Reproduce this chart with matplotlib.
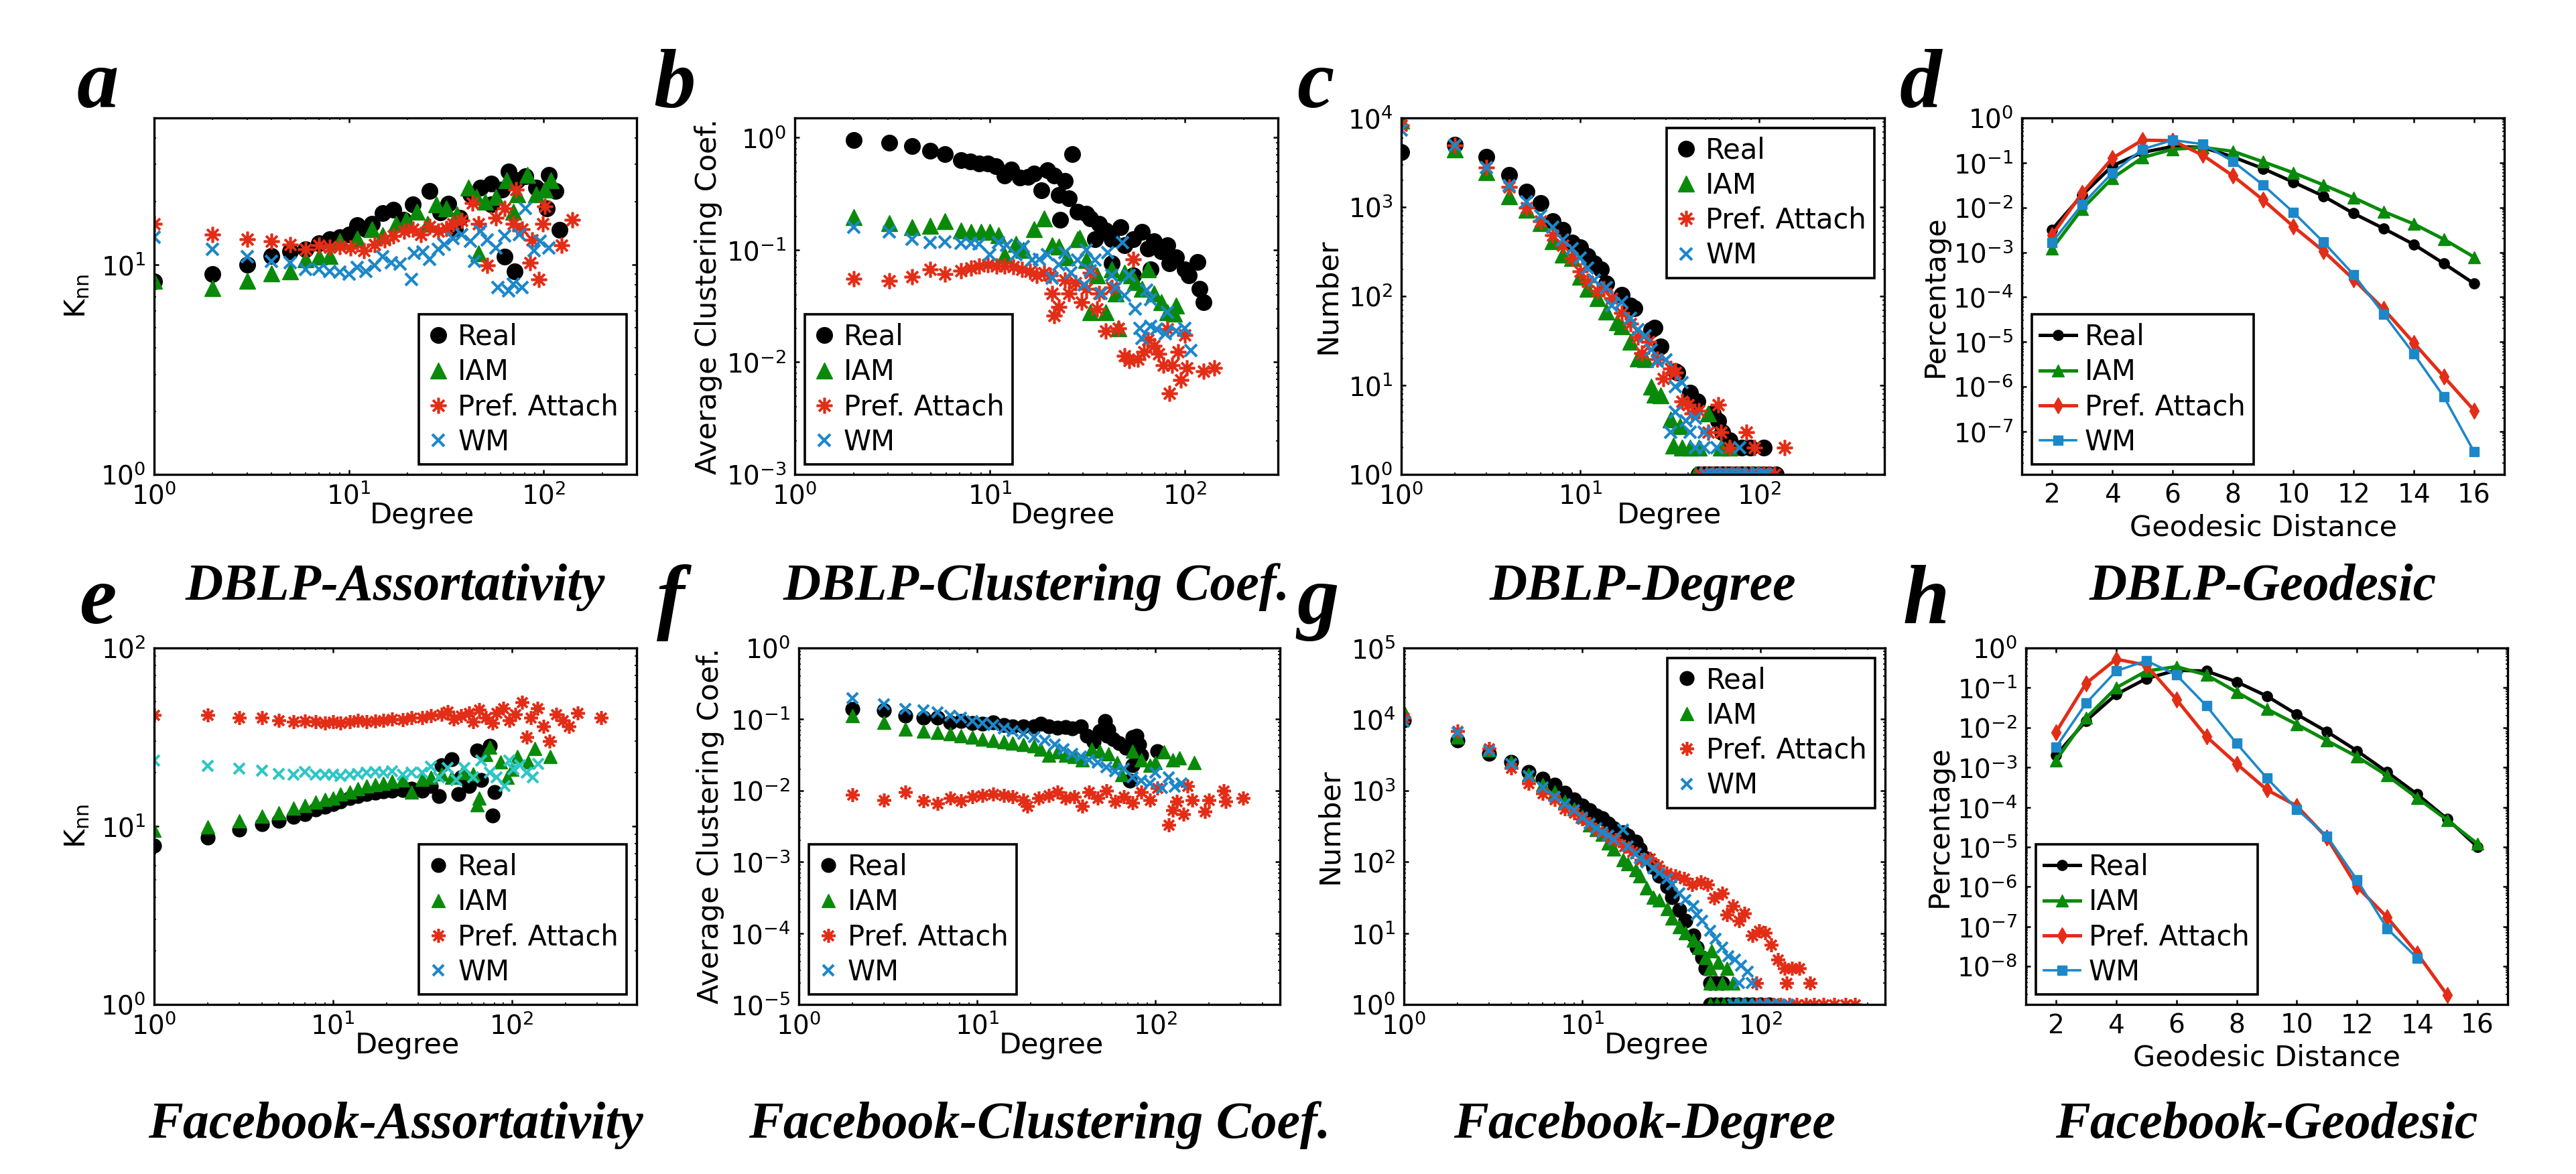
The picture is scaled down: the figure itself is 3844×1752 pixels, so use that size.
import numpy as np
import matplotlib
matplotlib.use("Agg")
import matplotlib.pyplot as plt
from matplotlib.ticker import LogLocator, NullLocator, NullFormatter, FixedLocator
from matplotlib.lines import Line2D

plt.rcParams['font.family'] = ['DejaVu Sans']
plt.rcParams['mathtext.fontset'] = 'dejavusans'

# ---------------- data ----------------
labels = ["Real", "IAM", "Pref. Attach", "WM"]

# a: DBLP assortativity
a_real_x = [1,2,3,4,5,6,7,8,9,10,11,12.2,13.1,14.9,16.9,19.1,21.2,25.9,29.4,32.4,35,37,41.9,47.5,53.8,53.8,61,63,66,71,73,80.8,91.5,104,106.6,115,121]
a_real_y = [8.3,9.0,10.0,11.0,11.6,11.8,12.6,13.2,13.5,13.9,15.4,14.7,15.7,17.6,18.2,16.4,19.4,22.4,17.7,19.5,14.9,16.7,21.7,23.2,24.4,19.4,22.8,10.9,27.8,9.3,25.2,26.4,23.2,18.5,26.8,22.4,14.6]
a_iam_x = [1,2,3,4,5,6,7,8,9,11,13.1,14.9,17.4,19.7,22.3,25.3,28,31.7,36,41,45.2,46.4,50,56.9,64.3,69.6,73,82.8,91.5,101,109]
a_iam_y = [8.4,7.75,8.35,9.1,9.3,10.6,10.9,11.0,12.9,13.3,14.7,13.8,15.6,16.4,17.9,15.6,19.4,18.5,17.3,23.2,21,11.3,20,21,25.2,17.9,21.7,26.8,21.7,22.8,25.2]
a_pa_x = [1,2,3,4,5,6,7,8,9,10.2,11.9,13.5,15.3,16.9,19.2,21.2,23.4,25.9,28.7,31.7,34.3,38,43,46.4,51.3,56.9,63,69.6,72,77.3,85,87,94,99,101,124,140]
a_pa_y = [15.7,13.9,13.2,12.9,12.5,11.8,12.4,12.1,12.2,12.0,11.7,12.5,13.1,13.7,14.4,14.7,13.9,15.2,14.4,14.9,15.7,16.2,19.7,15.7,9.9,16.7,18.5,15.7,22.8,14.7,10.2,13.1,8.5,15.7,19.0,12.4,16.4]
a_wm_x = [1,2,3,4,5,6,7,8,9,10,11,12.2,13.5,14.9,16.5,18.3,20.9,21.7,24,25.9,28.7,31,34.3,38,41.9,44,47.5,51.3,56.9,58,63,66,69.6,75,77.3,80.8,89.5,96,106.6]
a_wm_y = [13.5,11.8,10.9,10.4,10.2,9.5,9.5,9.3,9.2,9.0,9.7,9.3,9.9,10.9,10.2,10.1,8.5,11.3,11.5,10.6,11.8,12.5,13.3,13.9,12.9,10.4,14.4,13.1,12.0,7.8,13.7,7.5,8.1,13.9,7.8,18.5,11.7,12.9,12.0]

# b: DBLP clustering
b_real_x = [2.0,3.05,4.0,4.95,5.9,7.1,7.96,8.8,9.75,10.7,11.9,12.9,14.3,15.7,16.9,18.4,19.8,21.4,22.5,24.2,23,25.5,26.4,28.2,31.2,32.8,34.5,36.3,39.2,42.1,42.1,46.8,49.2,54.5,54.5,60.2,64.8,66.6,69.6,75.5,81.3,83.5,90.3,100,105,116,119,125]
b_real_y = [0.95,0.90,0.84,0.77,0.71,0.63,0.61,0.59,0.59,0.56,0.46,0.52,0.44,0.45,0.48,0.34,0.51,0.46,0.31,0.41,0.185,0.29,0.71,0.22,0.21,0.19,0.124,0.17,0.15,0.125,0.076,0.16,0.11,0.125,0.059,0.145,0.103,0.067,0.12,0.097,0.11,0.076,0.086,0.067,0.059,0.078,0.045,0.034]
b_iam_x = [2.0,3.05,4.0,4.95,5.9,7.1,8.0,9.0,10.0,11.1,11.9,13.6,14.9,16.9,18.9,20.8,22.5,24.9,28.2,28.9,31.2,32.8,35.4,39.2,42.1,44.4,45.5,49.2,53.1,55.8,60.2,64.8,69.6,75.5,81.3,88,90.3]
b_iam_y = [0.196,0.174,0.159,0.164,0.18,0.149,0.145,0.145,0.145,0.136,0.089,0.113,0.10,0.154,0.19,0.11,0.107,0.086,0.124,0.128,0.081,0.028,0.059,0.028,0.067,0.041,0.020,0.063,0.059,0.052,0.045,0.067,0.041,0.034,0.028,0.027,0.032]
b_pa_x = [2.0,3.05,4.0,4.95,5.9,7.1,8.0,8.8,9.75,10.8,11.9,13.2,14.6,16.1,17.4,18.9,20.3,20.8,21.4,22.5,24.2,25.5,27.5,29.6,31.2,32.8,35.4,36.3,39.2,42.1,45.5,49.2,51.8,54.5,57.4,61.7,64.8,69.6,73.6,77.6,81.3,83.5,86,92.6,95,100,102,125,142]
b_pa_y = [0.055,0.053,0.058,0.067,0.061,0.065,0.069,0.072,0.074,0.072,0.072,0.071,0.067,0.064,0.059,0.063,0.059,0.041,0.026,0.031,0.054,0.041,0.051,0.034,0.045,0.063,0.030,0.041,0.019,0.046,0.020,0.0114,0.0103,0.083,0.0106,0.0123,0.0159,0.0141,0.0118,0.0094,0.0197,0.0053,0.0094,0.0123,0.0069,0.0174,0.0089,0.0083,0.0089]
b_wm_x = [2.0,3.05,4.0,4.95,5.9,7.1,8.0,8.8,10.0,11.1,12.2,13.6,14.9,16.5,17.9,19.8,20.8,22.5,24.2,26,28.2,30.5,31.2,32.8,34.5,37.2,40.2,42.1,44.4,48,49.2,51.8,55.8,58.8,60.2,63.5,66.6,66.6,71.7,79.5,81.3,90.3,100,107]
b_wm_y = [0.159,0.145,0.125,0.117,0.118,0.115,0.115,0.113,0.091,0.117,0.11,0.091,0.107,0.081,0.083,0.091,0.056,0.074,0.094,0.063,0.081,0.049,0.10,0.065,0.081,0.041,0.094,0.059,0.046,0.117,0.039,0.059,0.030,0.020,0.0164,0.044,0.021,0.036,0.0197,0.018,0.028,0.019,0.020,0.0128]

# c: DBLP degree
c_real_x = [1,2,3,4,5,6,7,8,9,10,11,12,13,14,17,19,20,25,26,28,34,35,41,45,55,59,62,68,72,80,89,106,46,49,52,55,58,62,66,70,75,80,86,92,99,106,114,124]
c_real_y = [4100,5000,3650,2290,1500,1100,690,555,400,355,282,232,200,140,103,78,73,42,44,27.5,14.3,13.8,8.3,6.6,4.8,4.0,3.0,2.4,2.0,2.0,2.0,2.0,1,1,1,1,1,1,1,1,1,1,1,1,1,1,1,1]
c_iam_x = [1,2,3,4,5,6,7,8,9,10,11,12.5,14,16,17,19,21,23,25,26,28,32,33,36,37,41,46,52,61,68,44,47,51,55,60,65,71,77,84,92,100]
c_iam_y = [9260,4430,2480,1330,940,662,417,294,270,164,120,95,67,51,46,31,20,19.5,9.7,7.9,7.7,4.1,2.1,3.5,2,2,2,4.8,2,2,1,1,1,1,1,1,1,1,1,1,1]
c_pa_x = [1,2,3,4,5,6,7,8,9,10,11,12.5,13.5,15,17,19,21,22,24,27,29,32,34,37,40,42,46,52,59,61,68,85,94,139,47,51,55,60,65,70,76,83,90,98,106,114,122]
c_pa_y = [8240,4950,2780,1680,980,690,485,370,270,190,146,115,120,95,65,49,35,23,31,19.5,11.8,15.4,13.8,6.6,6.1,4.8,5.2,3.0,6.1,3.0,2,3.0,2.0,2.0,1,1,1,1,1,1,1,1,1,1,1,1,1]
c_wm_x = [1,2,3,4,5,6,7,8,9,10,11,12,14,15,17,19,21,23,25,27,30,34,37,34,39,44,32,41,49,44,49,58,78,50,54,58,63,68,74,80,88,96,104,110]
c_wm_y = [7330,4950,2780,1740,1140,800,590,430,343,270,207,151,125,78,85,56,42,36,25,18.6,19.4,9.7,10.8,5.0,4.0,4.3,3.0,3.0,3.0,2,2,2,2,1,1,1,1,1,1,1,1,1,1,1]

# d: DBLP geodesic
d_dist = [2,3,4,5,6,7,8,9,10,11,12,13,14,15,16]
d_real = [3.2e-3,1.9e-2,8.5e-2,0.17,0.23,0.22,0.135,0.074,0.037,0.018,7.4e-3,3.4e-3,1.5e-3,5.6e-4,2.0e-4]
d_iam = [1.2e-3,9.3e-3,0.045,0.13,0.20,0.22,0.18,0.105,0.06,0.032,0.0166,8.1e-3,4.3e-3,1.95e-3,7.8e-4]
d_pa = [2.4e-3,0.021,0.126,0.32,0.31,0.148,0.051,0.0148,3.8e-3,1.07e-3,2.5e-4,5.4e-5,9.5e-6,1.66e-6,2.95e-7]
d_wm = [1.66e-3,0.0117,0.059,0.2,0.32,0.26,0.107,0.032,7.9e-3,1.7e-3,3.2e-4,4.2e-5,5.4e-6,5.9e-7,3.5e-8]

# e: Facebook assortativity
e_real_x = [1,2,3,4,5,6,7,8,9,10,11,12.4,13.8,15.4,17.3,19.2,21.4,24.6,27.5,31.6,35.3,39.3,40.4,46.1,50.2,52,57.6,64.3,67.6,75.8,78,80]
e_real_y = [7.75,8.6,9.6,10.3,10.7,11.3,11.7,12.4,12.8,13.3,13.8,14.4,14.8,15.1,15.4,15.7,15.8,16.0,16.2,15.8,16.8,14.7,22.0,23.8,15.2,18.8,16.8,26.7,18.1,28.2,11.5,15.5]
e_iam_x = [1,2,3,4,5,6,7,8,9,10,11,12.4,13.8,15.4,17.3,19.2,21.4,24.6,27.5,31.6,35.3,40.4,46.1,52.8,60.6,64.3,66,71.6,75.8,87,94.5,100,108,124,135,164]
e_iam_y = [9.5,9.9,10.7,11.4,11.9,12.6,13.1,13.7,14.1,14.4,15.2,15.5,16.3,16.8,17.1,17.4,17.8,18.1,15.5,18.3,18.8,19.6,18.8,20.0,19.6,13.2,14.4,25.2,27.7,22.9,18.8,20.8,24.7,22.9,27.2,24.7]
e_pa_x = [1,2,3,4,5,6,7,8,9,10,11,12.4,13.8,15.4,17.3,19.2,21.4,24.6,27.5,31.6,35.3,40.4,44,47.5,52,57.6,60.6,66,71.6,78,82.6,89.6,97,105,114,121,128,139,150,163,177,193,210,234,317]
e_pa_y = [42.1,42.1,40.8,40.5,39.3,38.5,38.9,38.5,37.8,38.5,37.8,38.5,39.3,38.5,38.9,39.3,40.0,39.6,40.5,40.8,41.6,42.4,44.1,40.0,41.6,43.3,38.5,45,40.8,37.8,43.3,45.8,39.3,42.4,49.5,31.7,40.8,45.8,36.3,30,42.4,39.3,36.3,43.3,40.8]
e_wm_x = [1,2,3,4,5,6,7,8,9,10,11,12.4,13.8,15.4,17.3,19.2,21.4,24.6,27.5,31.6,35.3,39.3,44,49,54.6,60.6,67.6,75.8,82.6,91.5,97,102,111,121,131,140]
e_wm_y = [23.3,21.8,21.0,20.5,19.7,19.4,20.2,19.5,19.4,19.4,19.2,19.4,19.7,20.0,20.2,20.0,20.4,19.5,20.0,20.0,21.6,18.8,21.2,18.1,21.2,18.8,23.3,20.0,18.8,16.8,23.3,20.8,21.9,20.0,18.8,22.4]

# f: Facebook clustering
f_real_x = [2.0,3.0,3.95,5.0,6.0,7.1,8.15,9.4,10.7,12.3,14.1,15.8,18.2,20.8,22.7,25.3,28.2,31.4,34.2,38.2,41.5,45.1,48.9,52.3,53.5,54.7,57.8,62.9,68.2,72.2,74.4,74.4,78.6,80.9,83.2,103]
f_real_y = [0.14,0.134,0.113,0.105,0.105,0.091,0.095,0.088,0.087,0.091,0.083,0.080,0.079,0.079,0.087,0.079,0.076,0.077,0.075,0.079,0.059,0.0485,0.068,0.095,0.059,0.071,0.053,0.046,0.04,0.0139,0.056,0.0225,0.059,0.044,0.0315,0.036]
f_iam_x = [2.0,3.0,3.95,5.0,6.0,7.1,8.15,9.4,10.7,12.3,14.1,15.8,18.2,20.8,22.7,25.3,28.2,31.4,35,39,44,48.9,54.7,61,64.7,74.4,83.2,93,100,112,125,136,165]
f_iam_y = [0.113,0.091,0.073,0.068,0.065,0.062,0.059,0.056,0.053,0.051,0.0485,0.046,0.044,0.042,0.038,0.0315,0.0346,0.0315,0.030,0.027,0.038,0.036,0.033,0.0247,0.0168,0.036,0.027,0.0225,0.0247,0.0346,0.027,0.0286,0.0247]
f_pa_x = [2.0,3.0,3.95,5.0,6.0,7.1,8.15,9.4,10.7,12.3,14.1,15.8,18.2,19.2,22.1,25.3,28.2,31.4,35,39,42.6,47.6,53.2,59.4,66.3,74.4,83.2,93,103,119,125,132,144,152,161,190,200,242,249,311]
f_pa_y = [0.0087,0.0074,0.0096,0.0072,0.0066,0.0078,0.0072,0.0082,0.0086,0.009,0.0086,0.0082,0.0074,0.0061,0.0078,0.0086,0.0095,0.0078,0.0082,0.0061,0.0095,0.0078,0.0099,0.0070,0.0082,0.0068,0.0095,0.0074,0.0109,0.0033,0.0053,0.0070,0.0047,0.0115,0.0074,0.0051,0.0074,0.0099,0.0070,0.0078]
f_wm_x = [2.0,3.0,3.95,5.0,6.0,7.1,8.15,9.4,10.7,12.3,14.1,15.8,18.2,20.8,23.9,27.4,30.6,34.2,38.2,42.6,47.6,53.2,59.4,66.3,74.4,83.2,93,100,109,119,129,140]
f_wm_y = [0.196,0.162,0.14,0.134,0.125,0.113,0.105,0.095,0.088,0.083,0.075,0.068,0.062,0.056,0.051,0.044,0.038,0.033,0.030,0.027,0.0247,0.0214,0.0186,0.0204,0.0153,0.0139,0.0126,0.0177,0.0109,0.0153,0.0114,0.0126]

# g: Facebook degree
g_real_x = [1,2,3,4,5,6,7,8,9,10,11,12,13,14,15,17,18,20,21,23,25,27,30,32,35,38,42,44,47,49,52,56,61,52,56,60,65,70,76,83,90,100,112]
g_real_y = [9660,5000,3270,2550,1830,1470,1210,933,747,617,533,448,407,345,298,258,234,193,152,113,85,64,45,32,21,15,9.2,6.3,4.5,3.2,2.0,2.0,2.0,1,1,1,1,1,1,1,1,1,1]
g_iam_x = [1,2,3,4,5,6,7,8,9,10,11,12,13,14,15,17,18,20,21,23,25,27,30,32,35,38,42,45,49,53,58,52,65,52,61,70,52,57,62,68,75,82,90,99,110,125]
g_iam_y = [12900,5680,3750,2500,1660,1210,950,711,559,439,329,284,246,184,152,108,94,77,64,43,32,29,22,16.4,12.3,10.2,8.0,6.3,4.5,5.7,3.9,3.2,3.2,2.0,2.0,2.0,1,1,1,1,1,1,1,1,1,1]
g_pa_x = [1,2,3,4,5,6,7,8,9,10,11,12.3,13.8,15.4,17.2,19.2,21.4,23.9,26.7,29.8,33.3,37.2,41.4,46.3,50.4,55,61,65,70,76,81,90,98,106,115,125,136,150,165,95,140,190,95,105,118,130,145,160,180,200,225,260,300,339]
g_pa_y = [10600,6890,3860,2060,1270,906,747,559,484,398,345,271,234,203,167,138,108,113,89,70,64,58,48,52,48,31,36,18,24,15,19,9.2,10.7,10.2,6.9,4.3,3.2,3.2,3.2,2.0,2.0,2.0,1,1,1,1,1,1,1,1,1,1,1,1]
g_wm_x = [1,2,3,4,5,6,7,8,9,10,11,12,13,14,15,17,18,20,21,23,25,27,30,32,35,38,42,44,47,52,56,61,66,72,78,85,76,89,70,77,85,94,104,115,128,142]
g_wm_y = [9200,6560,3680,2380,1620,1100,822,646,533,418,345,298,258,234,203,284,167,131,113,98,81,70,58,48,36,29,24,18,15,10.7,8.4,6.3,4.7,4.3,3.5,2.9,2.0,2.0,1,1,1,1,1,1,1,1]

# h: Facebook geodesic
h_dist = [2,3,4,5,6,7,8,9,10,11,12,13,14,15,16]
h_real = [2.0e-3,0.0148,0.068,0.17,0.275,0.263,0.141,0.062,0.0214,7.9e-3,2.6e-3,7.6e-4,2.1e-4,5.0e-5,1.0e-5]
h_iam = [1.5e-3,0.0174,0.1,0.263,0.34,0.21,0.078,0.0295,0.012,4.7e-3,1.86e-3,6.2e-4,1.7e-4,4.7e-5,1.2e-5]
h_pa_dist = [2,3,4,5,6,7,8,9,10,11,12,13,14,15]
h_pa = [7.6e-3,0.129,0.525,0.37,0.051,5.9e-3,1.23e-3,2.75e-4,1.07e-4,1.7e-5,1.0e-6,1.7e-7,2.1e-8,1.86e-9]
h_wm_dist = [2,3,4,5,6,7,8,9,10,11,12,13,14]
h_wm = [3.2e-3,0.041,0.263,0.48,0.21,0.035,4.0e-3,5.4e-4,8.9e-5,1.86e-5,1.48e-6,8.9e-8,1.6e-8]

titles_top = ["DBLP-Assortativity", "DBLP-Clustering Coef.", "DBLP-Degree", "DBLP-Geodesic"]
titles_bot = ["Facebook-Assortativity", "Facebook-Clustering Coef.", "Facebook-Degree", "Facebook-Geodesic"]
letters_top = ["a", "b", "c", "d"]
letters_bot = ["e", "f", "g", "h"]

# ---------------- style ----------------
BLACK = "#000000"
GREEN = "#0A8A0A"
RED = "#E22D17"
BLUE = "#1C87C9"
CYAN = "#2EC6C6"

W, H = 3844, 1752
fig = plt.figure(figsize=(W / 100, H / 100), dpi=100)


def add_ax(left, top, width=720, height=532):
    return fig.add_axes([left / W, 1 - (top + height) / H, width / W, height / H])


def style(ax, xlim, ylim, logx=True):
    ax.set_yscale("log")
    if logx:
        ax.set_xscale("log")
    ax.set_xlim(xlim)
    ax.set_ylim(ylim)
    ax.yaxis.set_major_locator(LogLocator(base=10, numticks=30))
    ax.yaxis.set_minor_locator(LogLocator(base=10, subs=np.arange(2, 10) * 1.0, numticks=30))
    ax.yaxis.set_minor_formatter(NullFormatter())
    if logx:
        ax.xaxis.set_major_locator(LogLocator(base=10, numticks=30))
        ax.xaxis.set_minor_locator(LogLocator(base=10, subs=np.arange(2, 10) * 1.0, numticks=30))
        ax.xaxis.set_minor_formatter(NullFormatter())
    ax.tick_params(which="both", direction="in", top=True, right=True, labelsize=28)
    ax.tick_params(which="major", length=5, width=1.8, pad=9)
    ax.tick_params(which="minor", length=2.5, width=1.2)
    for s in ax.spines.values():
        s.set_linewidth(2.4)


def make_legend(ax, handles, loc, line=False):
    L = ax.legend(handles, labels, loc=loc, fontsize=30, frameon=True, fancybox=False,
                  edgecolor="k", framealpha=1, borderpad=0.3, labelspacing=0.25,
                  handlelength=1.3 if line else 0.8, handletextpad=0.3,
                  borderaxespad=0.35, numpoints=1)
    L.get_frame().set_linewidth(2.6)
    return L


def scatter_panel(ax, data, size, wm_color=BLUE):
    (rx, ry), (ix, iy), (px, py), (wx, wy) = data
    h1, = ax.plot(rx, ry, ls="none", marker="o", ms=size, mfc=BLACK, mec=BLACK)
    h2, = ax.plot(ix, iy, ls="none", marker="^", ms=size, mfc=GREEN, mec=GREEN)
    h3, = ax.plot(px, py, ls="none", marker=(8, 2, 0), ms=size, mec=RED, mew=2.6)
    h4, = ax.plot(wx, wy, ls="none", marker="x", ms=size * 0.75, mec=wm_color, mew=3)
    if wm_color != BLUE:
        h4 = Line2D([], [], ls="none", marker="x", ms=size * 0.75, mec=BLUE, mew=3)
    return [h1, h2, h3, h4]


def line_panel(ax, xs, ys):
    h1, = ax.plot(xs[0], ys[0], "-", color=BLACK, lw=3.6, marker="o", ms=11)
    h2, = ax.plot(xs[1], ys[1], "-", color=GREEN, lw=3.6, marker="^", ms=13)
    h3, = ax.plot(xs[2], ys[2], "-", color=RED, lw=3.6, marker="d", ms=12)
    h4, = ax.plot(xs[3], ys[3], "-", color=BLUE, lw=2.6, marker="s", ms=10)
    return [h1, h2, h3, h4]


def xlabel_deg(ax, xpos):
    ax.set_xlabel("Degree", fontsize=31)
    ax.xaxis.set_label_coords(xpos, -0.075)


def ylabel(ax, text, xpos):
    ax.set_ylabel(text, fontsize=31)
    ax.yaxis.set_label_coords(xpos, 0.5)


# ---- top row ----
ax_a = add_ax(230, 176)
style(ax_a, (1, 300), (1, 50))
hs = scatter_panel(ax_a, [(a_real_x, a_real_y), (a_iam_x, a_iam_y), (a_pa_x, a_pa_y), (a_wm_x, a_wm_y)], 17)
make_legend(ax_a, hs, "lower right")
xlabel_deg(ax_a, 0.555)
ylabel(ax_a, r"K$_{\mathrm{nn}}$", -0.13)

ax_b = add_ax(1186, 176, 721)
style(ax_b, (1, 300), (1e-3, 1.5))
hs = scatter_panel(ax_b, [(b_real_x, b_real_y), (b_iam_x, b_iam_y), (b_pa_x, b_pa_y), (b_wm_x, b_wm_y)], 17)
make_legend(ax_b, hs, "lower left")
xlabel_deg(ax_b, 0.555)
ylabel(ax_b, "Average Clustering Coef.", -0.15)

ax_c = add_ax(2091, 176, 721)
style(ax_c, (1, 500), (1, 1e4))
hs = scatter_panel(ax_c, [(c_real_x, c_real_y), (c_iam_x, c_iam_y), (c_pa_x, c_pa_y), (c_wm_x, c_wm_y)], 17)
make_legend(ax_c, hs, "upper right")
xlabel_deg(ax_c, 0.555)
ylabel(ax_c, "Number", -0.123)

ax_d = add_ax(3017, 176)
style(ax_d, (1, 17), (1.1e-8, 1), logx=False)
ax_d.xaxis.set_major_locator(FixedLocator(d_dist[::2]))
hs = line_panel(ax_d, [d_dist, d_dist, d_dist, d_dist], [d_real, d_iam, d_pa, d_wm])
make_legend(ax_d, hs, "lower left", line=True)
ax_d.set_xlabel("Geodesic Distance", fontsize=31)
ax_d.xaxis.set_label_coords(0.5, -0.11)
ylabel(ax_d, "Percentage", -0.15)

# ---- bottom row ----
ax_e = add_ax(230, 967)
style(ax_e, (1, 500), (1, 100))
hs = scatter_panel(ax_e, [(e_real_x, e_real_y), (e_iam_x, e_iam_y), (e_pa_x, e_pa_y), (e_wm_x, e_wm_y)], 15, wm_color=CYAN)
make_legend(ax_e, hs, "lower right")
xlabel_deg(ax_e, 0.525)
ylabel(ax_e, r"K$_{\mathrm{nn}}$", -0.13)

ax_f = add_ax(1192, 967, 718)
style(ax_f, (1, 500), (1e-5, 1))
hs = scatter_panel(ax_f, [(f_real_x, f_real_y), (f_iam_x, f_iam_y), (f_pa_x, f_pa_y), (f_wm_x, f_wm_y)], 15)
make_legend(ax_f, hs, "lower left")
xlabel_deg(ax_f, 0.525)
ylabel(ax_f, "Average Clustering Coef.", -0.155)

ax_g = add_ax(2095, 967, 718)
style(ax_g, (1, 500), (1, 1e5))
hs = scatter_panel(ax_g, [(g_real_x, g_real_y), (g_iam_x, g_iam_y), (g_pa_x, g_pa_y), (g_wm_x, g_wm_y)], 15)
make_legend(ax_g, hs, "upper right")
xlabel_deg(ax_g, 0.525)
ylabel(ax_g, "Number", -0.125)

ax_h = add_ax(3023, 967, 719)
style(ax_h, (1, 17), (1.1e-9, 1), logx=False)
ax_h.xaxis.set_major_locator(FixedLocator(h_dist[::2]))
hs = line_panel(ax_h, [h_dist, h_dist, h_pa_dist, h_wm_dist], [h_real, h_iam, h_pa, h_wm])
make_legend(ax_h, hs, "lower left", line=True)
ax_h.set_xlabel("Geodesic Distance", fontsize=31)
ax_h.xaxis.set_label_coords(0.5, -0.11)
ylabel(ax_h, "Percentage", -0.15)

# ---- titles and panel letters ----
serif = dict(family=["Liberation Serif", "DejaVu Serif"], style="italic", weight="bold")
top_axes = [ax_a, ax_b, ax_c, ax_d]
bot_axes = [ax_e, ax_f, ax_g, ax_h]
for ax, t in zip(top_axes, titles_top):
    bb = ax.get_position()
    fig.text((bb.x0 + bb.x1) / 2, 1 - 895 / H, t, ha="center", va="baseline", fontsize=56, **serif)
for ax, t in zip(bot_axes, titles_bot):
    bb = ax.get_position()
    fig.text((bb.x0 + bb.x1) / 2, 1 - 1698 / H, t, ha="center", va="baseline", fontsize=56, **serif)

for x, l in zip([115, 975, 1935, 2835], letters_top):
    fig.text(x / W, 1 - 160 / H, l, ha="left", va="baseline", fontsize=90, **serif)
for x, l in zip([118, 980, 1935, 2840], letters_bot):
    fig.text(x / W, 1 - 930 / H, l, ha="left", va="baseline", fontsize=90, **serif)

fig.savefig("out.png", dpi=100, facecolor="white")
